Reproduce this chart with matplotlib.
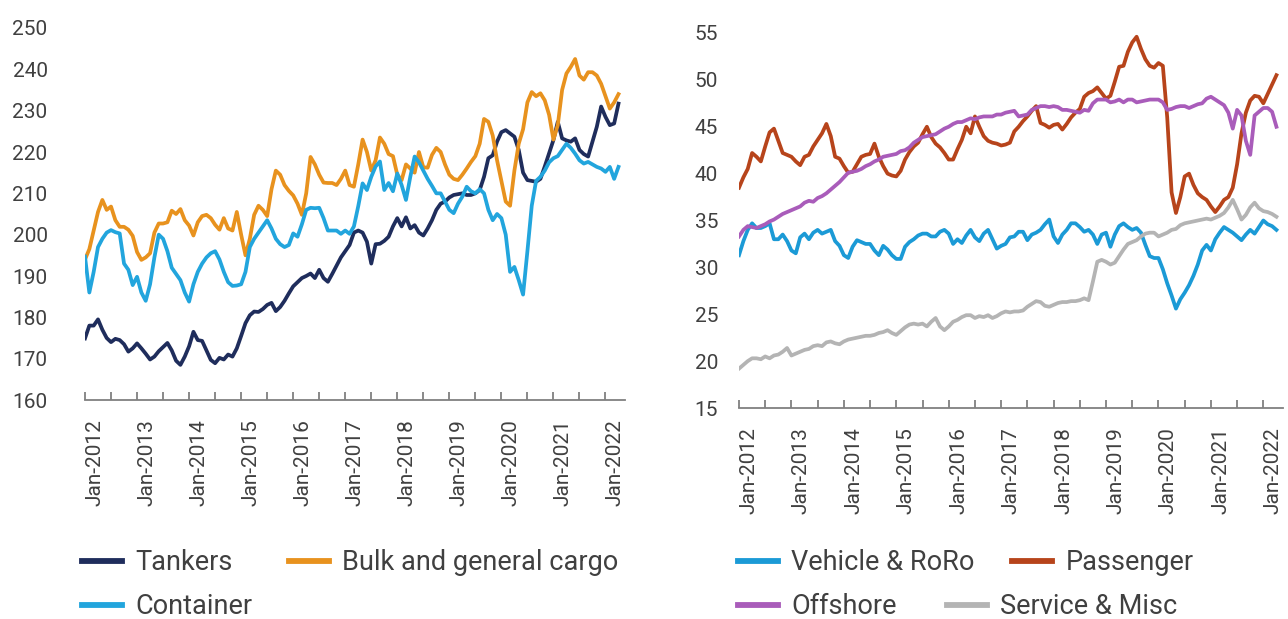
import matplotlib
matplotlib.use("Agg")
import matplotlib.pyplot as plt
from matplotlib.lines import Line2D
from matplotlib.transforms import ScaledTranslation
import numpy as np

plt.rcParams['font.family'] = ['Roboto', 'DejaVu Sans']

# ---------------- data (monthly, Jan-2012 .. Apr-2022) ----------------
tick_labels = ["Jan-2012", "Jan-2013", "Jan-2014", "Jan-2015", "Jan-2016", "Jan-2017",
               "Jan-2018", "Jan-2019", "Jan-2020", "Jan-2021", "Jan-2022"]

tankers = [174.9, 178, 178, 179.5, 177, 175, 174, 174.8, 174.5, 173.5,
           171.7, 172.5, 173.7, 172.5, 171.2, 169.8, 170.5, 171.8, 172.8, 173.8,
           172, 169.5, 168.5, 170.5, 173, 176.5, 174.5, 174.3, 172, 169.7,
           168.9, 170.2, 169.8, 171, 170.5, 172.5, 175.5, 178.6, 180.5, 181.4,
           181.3, 182, 183, 183.5, 181.5, 182.5, 184, 185.8, 187.5, 188.5,
           189.5, 190, 190.6, 189.5, 191.5, 189.5, 188.6, 190.5, 192.5, 194.5,
           196, 197.5, 200.5, 201, 200.5, 198.3, 193, 197.7, 197.8, 198.5,
           199.5, 202, 204, 202, 204.2, 201.5, 202.3, 200.5, 199.8, 201.5,
           203.5, 206, 207.5, 208, 209, 209.6, 209.8, 210, 209.6, 209.6,
           210, 210.8, 214, 218.5, 219.2, 222.5, 224.8, 225.3, 224.5, 223.7,
           220.5, 215, 213.2, 213, 212.8, 213.5, 216.5, 219.7, 222.9, 227.3,
           223.3, 222.8, 222.5, 223.3, 220.5, 219.5, 218.9, 222.5, 226.1, 231,
           228.5, 226.5, 226.9, 231.7]

bulk = [194, 196.5, 201, 205.5, 208.4, 206, 206.8, 203.5, 201.9, 201.9,
        201.2, 199.7, 195.8, 193.9, 194.5, 195.5, 200.5, 202.7, 202.7, 203,
        205.8, 205, 206.2, 203.5, 202.2, 199.8, 203, 204.5, 204.8, 204,
        202.4, 201.2, 204, 201.5, 201, 205.5, 200, 195, 199, 204.8,
        207, 206, 204.5, 211, 215.5, 214.5, 212, 210.6, 209.5, 207.5,
        204.8, 210, 218.8, 217, 214.5, 212.6, 212.5, 212.5, 212, 213.5,
        215.5, 212, 211.6, 217, 223, 220, 215.5, 218, 223.5, 222,
        219.5, 219, 214.5, 213.2, 217, 216, 215, 220, 216.3, 216.2,
        219.3, 221, 220, 217, 214.5, 213.5, 213.2, 214.5, 216, 217.6,
        219, 222, 228, 227.3, 224, 218, 213, 208, 207, 215.5,
        222, 225.5, 232, 234.5, 233.5, 234.2, 232.5, 229, 223, 226.5,
        235, 239, 240.6, 242.5, 238.5, 237.5, 239.3, 239.3, 238.5, 236.5,
        233.5, 230.5, 232, 234]

container = [194.7, 186, 191, 197, 199, 200.5, 201.1, 200.6, 200.3, 193,
             191.5, 187.8, 189.8, 186, 184, 188, 194.5, 200, 199, 196,
             192, 190.5, 189, 186, 183.8, 188, 191, 193, 194.5, 195.5,
             196, 194, 191, 188.5, 187.6, 187.7, 188, 191, 197, 199,
             200.5, 202, 203.5, 201.5, 199, 197.7, 197, 197.5, 200.3, 199.5,
             202.5, 206, 206.5, 206.4, 206.5, 204, 201, 201, 201, 200.2,
             201, 200.2, 202, 206.9, 212.4, 210.8, 214, 216.5, 217.7, 210.8,
             212.5, 210.5, 214.8, 212, 208.4, 214, 218.9, 217.5, 215.5, 213.5,
             211.8, 210, 210, 208, 206, 205.2, 207.5, 209.2, 211.6, 210.5,
             210, 211, 210, 206, 203.5, 205, 204, 200, 191, 192.2,
             189, 185.5, 196, 207, 213, 214, 215.5, 217.5, 218.5, 219,
             220.5, 222, 221, 219.6, 218, 217.2, 217.6, 217, 216.4, 216,
             215.2, 216.4, 213.5, 216.4]

vehicle = [31.3, 32.8, 34, 34.7, 34.2, 34.2, 34.4, 34.7, 33, 33,
           33.5, 32.8, 31.8, 31.5, 33.2, 33.6, 33, 33.7, 34, 33.6,
           33.8, 34, 32.8, 32.3, 31.3, 31, 32.2, 32.9, 32.7, 32.5,
           32.5, 31.8, 31.3, 32.3, 31.9, 31.3, 30.9, 30.9, 32.2, 32.7,
           33, 33.4, 33.6, 33.6, 33.3, 33.3, 33.8, 34, 33.6, 32.5,
           33, 32.6, 33.4, 34, 33.2, 32.8, 33.6, 34, 33, 32,
           32.3, 32.5, 33.2, 33.3, 33.8, 33.8, 32.9, 33.5, 33.7, 34,
           34.6, 35.1, 33.3, 32.6, 33.5, 34, 34.7, 34.7, 34.3, 33.8,
           34, 33.5, 32.5, 33.5, 33.7, 32.2, 33.5, 34.4, 34.7, 34.3,
           34, 34.2, 33.7, 32.4, 31.2, 31, 31, 29.8, 28.3, 27,
           25.6, 26.6, 27.3, 28.1, 29.1, 30.3, 31.8, 32.4, 31.8, 33,
           33.7, 34.3, 34, 33.7, 33.3, 32.9, 33.5, 34, 33.6, 34.3,
           35, 34.6, 34.4, 34]

passenger = [38.5, 39.6, 40.5, 42.2, 41.8, 41.3, 42.9, 44.4, 44.8, 43.5,
             42.2, 42, 41.8, 41.3, 40.9, 41.8, 42, 42.9, 43.6, 44.3,
             45.3, 44, 41.8, 41.6, 40.8, 40.1, 40.2, 41, 41.8, 42,
             42.1, 43.2, 41.8, 40.8, 40, 39.8, 39.7, 40.3, 41.5, 42.3,
             42.9, 43.3, 44.2, 45, 43.9, 43.2, 42.8, 42.2, 41.5, 41.5,
             42.6, 43.6, 45, 44.3, 46.1, 45, 44, 43.5, 43.3, 43.2,
             43, 43.1, 43.3, 44.5, 45, 45.6, 46.1, 46.7, 47.2, 45.4,
             45.2, 44.9, 45.2, 45.3, 44.7, 45.3, 46, 46.5, 46.9, 48.2,
             48.6, 48.8, 49.2, 48.6, 48, 48.3, 49.8, 51.4, 51.5, 53,
             54, 54.6, 53.3, 52.2, 51.5, 51.3, 51.8, 51.5, 46, 38,
             35.8, 37.5, 39.7, 40, 38.8, 37.9, 37.5, 37.2, 36.5, 35.9,
             36.5, 37.2, 37.5, 38.5, 41, 44.3, 46.5, 47.8, 48.3, 48.2,
             47.5, 48.5, 49.5, 50.5]

offshore = [33.3, 34, 34.4, 34.3, 34.2, 34.4, 34.6, 34.9, 35.1, 35.4,
            35.7, 35.9, 36.1, 36.3, 36.5, 36.9, 37.1, 37, 37.4, 37.6,
            37.9, 38.3, 38.7, 39.1, 39.6, 40.1, 40.2, 40.3, 40.5, 40.8,
            41, 41.3, 41.5, 41.8, 41.9, 42, 42.1, 42.4, 42.5, 42.8,
            43.3, 43.6, 43.9, 44, 44.1, 44.2, 44.5, 44.8, 45, 45.3,
            45.5, 45.5, 45.7, 45.9, 45.8, 46, 46.1, 46.1, 46.1, 46.3,
            46.3, 46.5, 46.6, 46.7, 46.1, 46.2, 46.3, 46.8, 47, 47.2,
            47.2, 47.1, 47.2, 47.1, 46.8, 46.8, 46.7, 46.6, 46.5, 46.8,
            46.7, 47.5, 47.9, 47.9, 47.9, 47.6, 47.7, 47.9, 47.6, 47.9,
            47.9, 47.6, 47.7, 47.8, 47.9, 47.9, 47.9, 47.6, 46.8, 46.9,
            47.1, 47.2, 47.2, 47, 47.2, 47.4, 47.5, 48, 48.2, 47.9,
            47.6, 47.3, 46.5, 44.8, 46.8, 46.2, 43.5, 42, 46.2, 46.6,
            47, 47, 46.6, 45]

service = [19.2, 19.6, 20, 20.3, 20.3, 20.2, 20.5, 20.3, 20.6, 20.7,
           21, 21.4, 20.6, 20.8, 21, 21.2, 21.3, 21.6, 21.7, 21.6,
           22, 22.1, 21.9, 21.8, 22.1, 22.3, 22.4, 22.5, 22.6, 22.7,
           22.7, 22.8, 23, 23.1, 23.3, 23, 22.8, 23.2, 23.6, 23.9,
           24, 23.9, 24, 23.7, 24.2, 24.6, 23.7, 23.3, 23.7, 24.2,
           24.4, 24.7, 24.9, 24.9, 24.6, 24.8, 24.7, 24.9, 24.6, 24.8,
           25.1, 25.3, 25.2, 25.3, 25.3, 25.4, 25.8, 26.1, 26.4, 26.3,
           25.9, 25.8, 26, 26.2, 26.3, 26.3, 26.4, 26.4, 26.5, 26.7,
           26.5, 28.5, 30.6, 30.8, 30.6, 30.3, 30.5, 31.2, 31.9, 32.5,
           32.7, 32.9, 33.3, 33.6, 33.7, 33.7, 33.3, 33.5, 33.7, 34,
           34.1, 34.5, 34.7, 34.8, 34.9, 35, 35.1, 35.2, 35.1, 35.3,
           35.5, 35.8, 36.4, 37.2, 36.2, 35.1, 35.6, 36.4, 36.9, 36.3,
           36, 35.9, 35.7, 35.4]

left_series = [("Tankers", tankers, "#1f2d5c"),
               ("Bulk and general cargo", bulk, "#e8921e"),
               ("Container", container, "#22a5dd")]
right_series = [("Vehicle & RoRo", vehicle, "#1b9ad6"),
                ("Passenger", passenger, "#b7441b"),
                ("Offshore", offshore, "#a95cba"),
                ("Service & Misc", service, "#b4b4b4")]

# ---------------- figure ----------------
W, H = 1288, 619
fig = plt.figure(figsize=(W / 100, H / 100), dpi=100)

def px_axes(x0, x1, ytop, ybot):
    return fig.add_axes([x0 / W, 1 - ybot / H, (x1 - x0) / W, (ybot - ytop) / H])

axL = px_axes(85, 625, 28, 400)
axR = px_axes(739, 1283, 33, 408)

TXT = "#404040"
AXC = "#808080"

def style(ax, ylim, yticks, ypad):
    n = len(tankers)
    ax.set_xlim(0, n + 0.5)
    ax.set_ylim(*ylim)
    ax.set_yticks(yticks)
    for s in ("top", "right", "left"):
        ax.spines[s].set_visible(False)
    ax.spines["bottom"].set_color(AXC)
    ax.spines["bottom"].set_linewidth(1.3)
    major = [12 * i for i in range(len(tick_labels))]
    ax.set_xticks(major)
    ax.set_xticklabels(tick_labels, rotation=90)
    ax.set_xticks([m + 6 for m in major[:-1]], minor=True)
    ax.tick_params(axis="x", which="both", direction="in", length=6, width=1.3,
                   color=AXC, pad=14, labelsize=15, labelcolor=TXT)
    ax.tick_params(axis="y", length=0, pad=ypad, labelsize=15, labelcolor=TXT)
    off = ScaledTranslation(0.10, 0, fig.dpi_scale_trans)
    for lab in ax.get_xticklabels():
        lab.set_transform(lab.get_transform() + off)

months = np.arange(len(tankers))
for name, vals, col in left_series:
    axL.plot(months, vals, color=col, lw=2.7, solid_joinstyle="round")
for name, vals, col in right_series:
    axR.plot(months, vals, color=col, lw=2.7, solid_joinstyle="round")

style(axL, (160, 250), list(range(160, 251, 10)), 27)
style(axR, (15, 55), list(range(15, 56, 5)), 15)

# ---------------- legends ----------------
FS = 19.5
def row_legend(items, x_px, y_px, colsp):
    handles = [Line2D([0], [0], color=c, lw=4.2) for _, _, c in items]
    labels = [n for n, _, _ in items]
    leg = fig.legend(handles, labels, loc="center left",
                     bbox_to_anchor=(x_px / W, 1 - y_px / H),
                     ncol=len(items), frameon=False, fontsize=FS,
                     handlelength=1.48, handletextpad=0.48,
                     columnspacing=colsp, borderpad=0, borderaxespad=0)
    for t in leg.get_texts():
        t.set_color(TXT)
    return leg

row_legend([left_series[0], left_series[1]], 82, 563, 2.1)
row_legend([left_series[2]], 82, 607, 1.0)
row_legend([right_series[0], right_series[1]], 738, 563, 1.4)
row_legend([right_series[2], right_series[3]], 738, 607, 1.85)

fig.savefig("out.png", dpi=100)
